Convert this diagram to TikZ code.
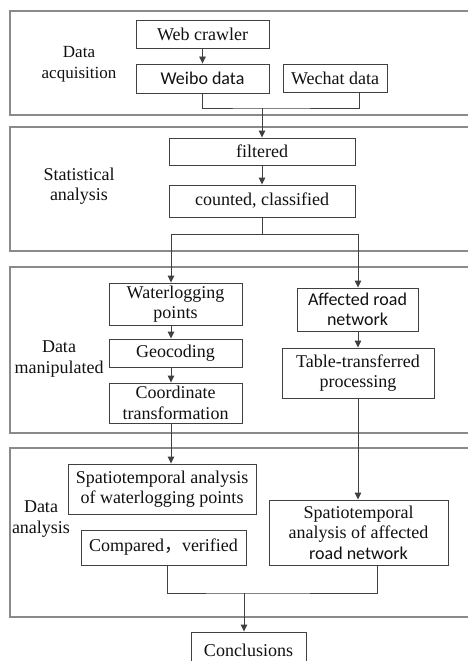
\documentclass[tikz,border=0pt]{standalone}
\usepackage{fontspec}
\setmainfont{Liberation Serif}
\newfontfamily\calib{Carlito}
\newfontfamily\cjk{Noto Sans CJK SC}
\usetikzlibrary{arrows.meta,shadows}

\definecolor{panelgray}{HTML}{8A8A8A}
\definecolor{boxline}{HTML}{404040}
\definecolor{txt}{HTML}{111111}

\begin{document}
\begin{tikzpicture}[x=1pt,y=-1pt,
  panel/.style={draw=panelgray, line width=1.3pt},
  stepbox/.style={draw=boxline, line width=0.9pt, fill=white, align=center,
    inner sep=0pt, text=txt, font=\fontsize{18}{20.5}\selectfont,
    drop shadow={shadow xshift=1.3pt, shadow yshift=-1.3pt, fill=black!22, opacity=1}},
  lab/.style={align=center, text=txt, font=\fontsize{18}{20.5}\selectfont},
  link/.style={draw=boxline, line width=0.9pt},
  flow/.style={link, -{Triangle[length=7pt,width=6.5pt]}}
]
\useasboundingbox (0,0) rectangle (467,661);
\fill[white] (0,0) rectangle (467,661);

% stage panels, open to the right
\draw[panel] (475,11)  -| (10,115) -- (475,115);
\draw[panel] (475,127) -| (10,251) -- (475,251);
\draw[panel] (475,267) -| (10,433) -- (475,433);
\draw[panel] (475,448) -| (10,617) -- (475,617);

% stage labels
\node[lab, font=\fontsize{17}{20.5}\selectfont] (lacq) at (79,64) {Data\\acquisition};
\node[lab] (lstat) at (79,186) {Statistical\\analysis};
\node[lab] (lman) at (59,359) {Data\\manipulated};
\node[lab] (lana) at (41,519) {Data\\analysis};

% column guides
\coordinate (colL) at (171,0);
\coordinate (colR) at (358,0);

% data acquisition
\node[stepbox, minimum width=133, minimum height=28] (crawl) at (202.5,34) {Web crawler};
\node[stepbox, minimum width=133, minimum height=29, font=\calib\fontsize{18}{20.5}\selectfont] (weibo) at (202.5,78.5) {Weibo data};
\node[stepbox, minimum width=104, minimum height=28] (wechat) at (335,78) {Wechat data};

% statistical analysis
\node[stepbox, minimum width=186, minimum height=27] (filt) at (262,151.5) {filtered};
\node[stepbox, minimum width=186, minimum height=32] (count) at (262,201) {counted, classified};

% data manipulation
\node[stepbox, minimum width=133, minimum height=42] (wlog) at (175.5,304) {Waterlogging\\points};
\node[stepbox, minimum width=133, minimum height=28] (geo) at (175.5,353) {Geocoding};
\node[stepbox, minimum width=133, minimum height=40] (coord) at (175.5,403) {Coordinate\\transformation};
\node[stepbox, minimum width=121, minimum height=43, font=\calib\fontsize{18}{20.5}\selectfont] (aff) at (357.5,309.5) {Affected road\\network};
\node[stepbox, minimum width=152, minimum height=50] (tab) at (358,373) {Table-transferred\\processing};

% data analysis
\node[stepbox, minimum width=188, minimum height=50] (stwp) at (162,489) {Spatiotemporal analysis\\of waterlogging points};
\node[stepbox, minimum width=165, minimum height=35] (cmp) at (163.5,547.5) {Compared{\cjk ，}verified};
\node[stepbox, minimum width=179, minimum height=65] (starn) at (358.5,532.5) {Spatiotemporal\\analysis of affected\\{\calib road network}};

% result
\node[stepbox, minimum width=115, minimum height=36] (concl) at (248.5,650) {Conclusions};

% connectors
\coordinate (j1) at (262,108);
\coordinate (j2) at (262,234);
\coordinate (j3) at (244,593);

\draw[flow] (crawl) -- (weibo);
\draw[link] (weibo.south) |- (j1) -| ([xshift=24pt]wechat.south);
\draw[flow] (j1) -- (j1 |- filt.north);
\draw[flow] (filt) -- (count);
\draw[link] (count.south) -- (j2);
\draw[flow] (j2) -| (colL |- wlog.north);
\draw[flow] (j2) -| (colR |- aff.north);
\draw[flow] (colL |- wlog.south) -- (colL |- geo.north);
\draw[flow] (colL |- geo.south) -- (colL |- coord.north);
\draw[flow] (colR |- aff.south) -- (colR |- tab.north);
\draw[flow] (colL |- coord.south) -- (colL |- stwp.north);
\draw[flow] (colR |- tab.south) -- (colR |- starn.north);
\draw[link] ([xshift=3.5pt]cmp.south) |- (j3) -| ([xshift=18.5pt]starn.south);
\draw[flow] (j3) -- (j3 |- concl.north);
\end{tikzpicture}
\end{document}
